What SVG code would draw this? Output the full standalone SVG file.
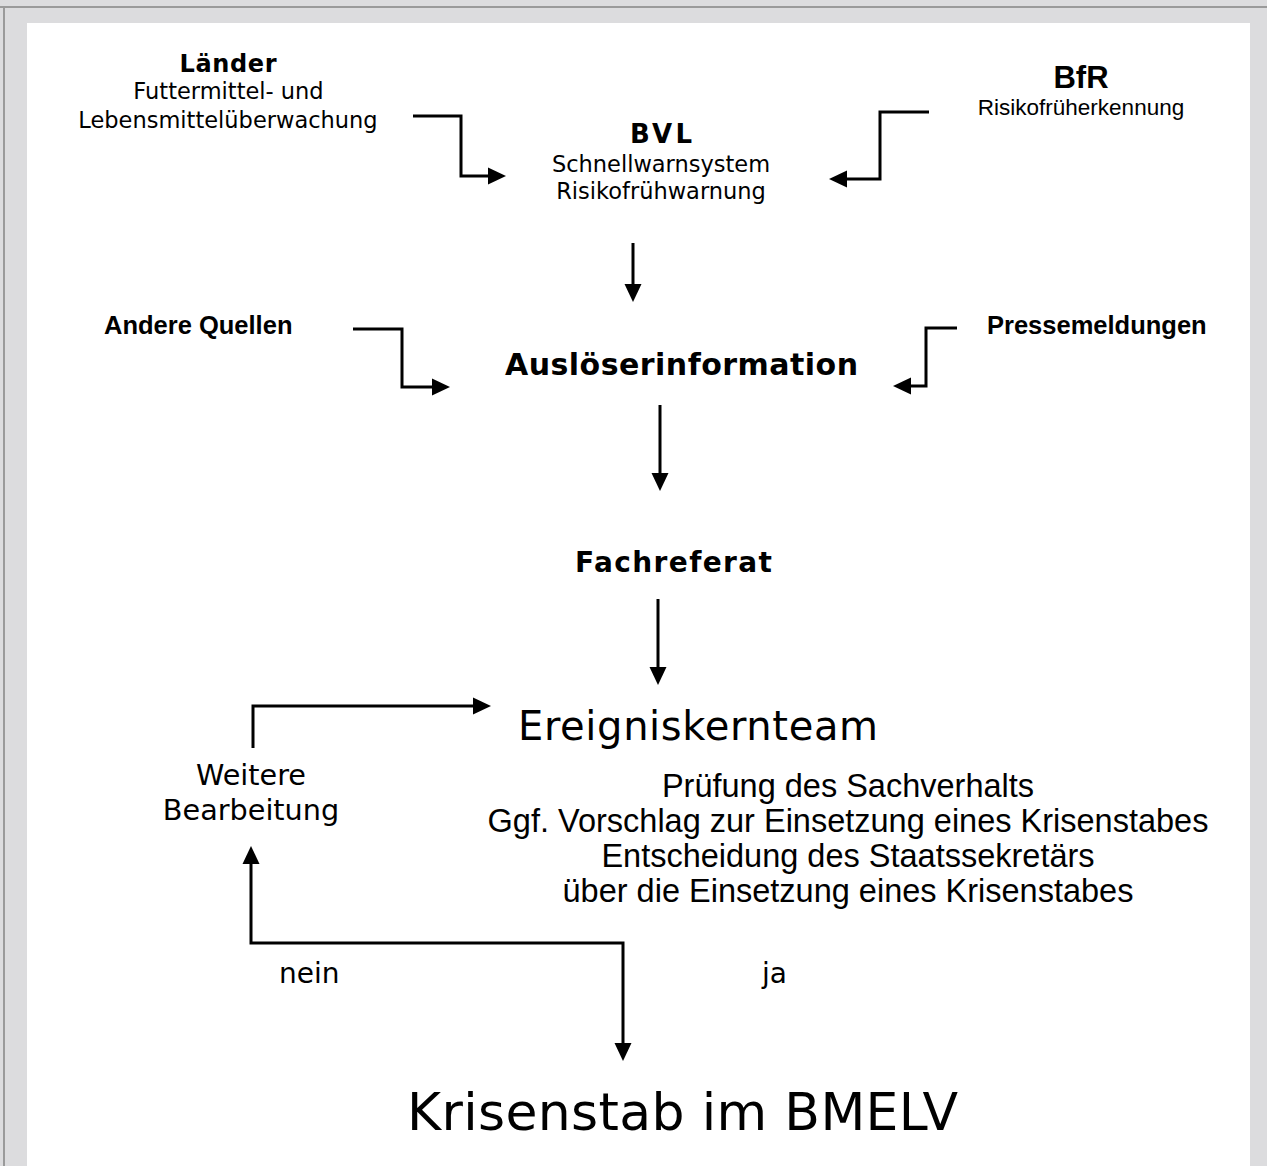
<svg xmlns="http://www.w3.org/2000/svg" width="1267" height="1166" viewBox="0 0 1267 1166">
<style>
.b{font-family:"Liberation Sans",Arial,sans-serif;font-weight:bold;fill:#000}
.vb{font-family:"DejaVu Sans",Verdana,sans-serif;font-weight:bold;fill:#000}
.v{font-family:"DejaVu Sans",Verdana,sans-serif;fill:#000}
.a{font-family:"Liberation Sans",Arial,sans-serif;fill:#000}
.c{stroke:#000;stroke-width:3;fill:none;stroke-linejoin:miter}
</style>
<defs>
<marker id="ah" markerUnits="userSpaceOnUse" markerWidth="18" markerHeight="18" refX="10" refY="9" orient="auto-start-reverse">
<path d="M0,0.5 L18,9 L0,17.5 z" fill="#000"/>
</marker>
</defs>
<rect x="0" y="0" width="1267" height="1166" fill="#dcdcde"/>
<rect x="0" y="6" width="1267" height="2" fill="#9a9a9a"/>
<rect x="3" y="6" width="2" height="1160" fill="#9a9a9a"/>
<rect x="27" y="23" width="1223" height="1143" fill="#fff"/>

<g id="laender">
<text class="vb" x="228" y="72" font-size="24" text-anchor="middle" textLength="97" lengthAdjust="spacing">Länder</text>
<text class="v" x="228.5" y="99" font-size="22.5" text-anchor="middle">Futtermittel- und</text>
<text class="v" x="228" y="128" font-size="22.5" text-anchor="middle">Lebensmittelüberwachung</text>
</g>
<g id="bvl">
<text class="vb" x="661" y="143" font-size="26" text-anchor="middle" textLength="62" lengthAdjust="spacing">BVL</text>
<text class="v" x="661" y="172" font-size="22.5" text-anchor="middle">Schnellwarnsystem</text>
<text class="v" x="661" y="199" font-size="22.5" text-anchor="middle">Risikofrühwarnung</text>
</g>
<g id="bfr">
<text class="b" x="1081" y="88" font-size="31" text-anchor="middle">BfR</text>
<text class="a" x="1081" y="115" font-size="22.5" text-anchor="middle">Risikofrüherkennung</text>
</g>
<g id="andere">
<text class="b" x="104" y="334" font-size="25.5">Andere Quellen</text>
</g>
<g id="presse">
<text class="b" x="987" y="334" font-size="25.5">Pressemeldungen</text>
</g>
<g id="ausloeser">
<text class="vb" x="505" y="375" font-size="30" textLength="353" lengthAdjust="spacing">Auslöserinformation</text>
</g>
<g id="fachreferat">
<text class="vb" x="575" y="572" font-size="28" textLength="197" lengthAdjust="spacing">Fachreferat</text>
</g>
<g id="ereigniskernteam">
<text class="v" x="518" y="740" font-size="40" textLength="360" lengthAdjust="spacing">Ereigniskernteam</text>
<text class="a" x="848" y="797" font-size="32.5" text-anchor="middle">Prüfung des Sachverhalts</text>
<text class="a" x="848" y="832" font-size="32.5" text-anchor="middle">Ggf. Vorschlag zur Einsetzung eines Krisenstabes</text>
<text class="a" x="848" y="867" font-size="32.5" text-anchor="middle">Entscheidung des Staatssekretärs</text>
<text class="a" x="848" y="902" font-size="32.5" text-anchor="middle">über die Einsetzung eines Krisenstabes</text>
</g>
<g id="weitere">
<text class="v" x="251" y="785" font-size="28.7" text-anchor="middle">Weitere</text>
<text class="v" x="251" y="820" font-size="28.7" text-anchor="middle">Bearbeitung</text>
</g>
<g id="krisenstab">
<text class="v" x="407" y="1130" font-size="52" textLength="551" lengthAdjust="spacing">Krisenstab im BMELV</text>
</g>
<g id="labels">
<text class="v" x="279" y="983" font-size="28">nein</text>
<text class="v" x="762" y="983" font-size="28">ja</text>
</g>

<g id="connectors">
<path class="c" d="M413,116 H461 V176 H498" marker-end="url(#ah)"/>
<path class="c" d="M929,112 H880 V179 H837" marker-end="url(#ah)"/>
<path class="c" d="M633,243 V294" marker-end="url(#ah)"/>
<path class="c" d="M353,329 H402 V387 H442" marker-end="url(#ah)"/>
<path class="c" d="M957,328 H926 V386 H901" marker-end="url(#ah)"/>
<path class="c" d="M660,405 V483" marker-end="url(#ah)"/>
<path class="c" d="M658,599 V677" marker-end="url(#ah)"/>
<path class="c" d="M253,748 V706 H483" marker-end="url(#ah)"/>
<path class="c" d="M251,854 V943 H623 V1053" marker-start="url(#ah)" marker-end="url(#ah)"/>
</g>
</svg>
